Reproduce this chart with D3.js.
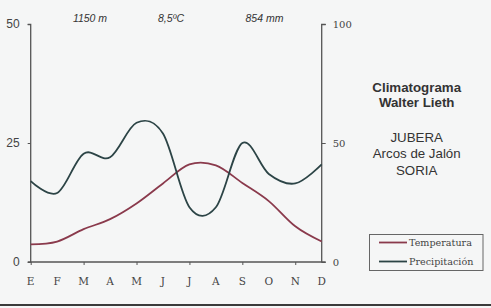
<!DOCTYPE html>
<html><head><meta charset="utf-8">
<script src="https://cdn.jsdelivr.net/npm/d3@7"></script>
<style>html,body{margin:0;padding:0;background:#f5f6f6;}</style>
</head><body>
<script>
const months = ["E","F","M","A","M","J","J","A","S","O","N","D"];
const temperatura = [3.7, 4.3, 6.9, 9.0, 12.3, 16.5, 20.5, 20.3, 16.6, 12.8, 7.5, 4.3];
const precipitacion = [34, 29, 45.5, 44, 58.5, 54, 23, 23, 50, 37, 33, 41];
const tempTicks = [0, 25, 50];
const precTicks = [0, 50, 100];
const headerTexts = [["1150 m", 90], ["8,5ºC", 171], ["854 mm", 264.5]];
const titleLines = ["Climatograma", "Walter Lieth"];
const placeLines = ["JUBERA", "Arcos de Jalón", "SORIA"];
const legendItems = [["Temperatura", "#8a3a4c"], ["Precipitación", "#2c4446"]];

const W = 491, H = 308;
const svg = d3.select("body").append("svg").attr("width", W).attr("height", H);
svg.append("rect").attr("width", W).attr("height", H).attr("fill", "#f5f6f6");

const x = d3.scalePoint().domain(d3.range(12)).range([30.7, 321.7]);
const yT = d3.scaleLinear().domain([0, 50]).range([262, 24]);
const yP = d3.scaleLinear().domain([0, 100]).range([262, 24]);
const axisColor = "#555";

// left axis
const gl = svg.append("g").attr("transform", "translate(30.7,0)");
gl.call(d3.axisLeft(yT).tickValues(tempTicks).tickSize(3).tickFormat(d3.format("d")));
gl.selectAll("text").attr("x", -11).attr("font-family", "Liberation Sans, Arial, sans-serif").attr("font-size", 12).attr("fill", "#444");
// right axis
const gr = svg.append("g").attr("transform", "translate(321.7,0)");
gr.call(d3.axisRight(yP).tickValues(precTicks).tickSize(4).tickFormat(d3.format("d")));
gr.selectAll("text").attr("x", 11).attr("font-family", "DejaVu Serif, serif").attr("font-size", 10).attr("fill", "#444");
// bottom axis
const gb = svg.append("g").attr("transform", "translate(0,262)");
gb.call(d3.axisBottom(x).tickValues(d3.range(0, 12, 2)).tickSize(3).tickFormat(""));
[gl, gr, gb].forEach(g => {
  g.select(".domain").attr("stroke", axisColor).attr("stroke-width", 1.3);
  g.selectAll(".tick line").attr("stroke", axisColor);
});
gb.select(".domain").attr("d", "M30.7,0H321.7");
gl.select(".domain").attr("d", "M-3,24.5H0V262H-3");
gr.select(".domain").attr("d", "M4,24.5H0V262H4");

svg.append("g").selectAll("text").data(months).join("text")
  .attr("x", (d, i) => x(i)).attr("y", 285)
  .attr("text-anchor", "middle")
  .attr("font-family", "DejaVu Serif, serif").attr("font-size", 10.5).attr("fill", "#444")
  .text(d => d);

// lines
const curve = d3.curveCardinal.tension(0);
svg.append("path").datum(temperatura)
  .attr("d", d3.line().x((d, i) => x(i)).y(d => yT(d)).curve(curve))
  .attr("fill", "none").attr("stroke", legendItems[0][1]).attr("stroke-width", 1.8);
svg.append("path").datum(precipitacion)
  .attr("d", d3.line().x((d, i) => x(i)).y(d => yP(d)).curve(curve))
  .attr("fill", "none").attr("stroke", legendItems[1][1]).attr("stroke-width", 1.8);

// header
svg.append("g").selectAll("text").data(headerTexts).join("text")
  .attr("x", d => d[1]).attr("y", 21.5).attr("text-anchor", "middle")
  .attr("font-family", "Liberation Sans, Arial, sans-serif").attr("font-style", "italic")
  .attr("font-size", 10.5).attr("fill", "#333").text(d => d[0]);

// titles
svg.append("g").selectAll("text").data(titleLines).join("text")
  .attr("x", 416.7).attr("y", (d, i) => 91.5 + i * 15.5).attr("text-anchor", "middle")
  .attr("font-family", "Liberation Sans, Arial, sans-serif").attr("font-weight", "bold")
  .attr("font-size", 13.3).attr("fill", "#333").text(d => d);
svg.append("g").selectAll("text").data(placeLines).join("text")
  .attr("x", 416.7).attr("y", (d, i) => 141.5 + i * 16.7).attr("text-anchor", "middle")
  .attr("font-family", "Liberation Sans, Arial, sans-serif")
  .attr("font-size", 13.3).attr("fill", "#333").text(d => d);

// legend
const lg = svg.append("g");
lg.append("rect").attr("x", 369.5).attr("y", 234.5).attr("width", 113.5).attr("height", 36)
  .attr("fill", "none").attr("stroke", "#666").attr("stroke-width", 1);
legendItems.forEach((d, i) => {
  const yy = 242.5 + i * 19;
  lg.append("line").attr("x1", 379).attr("x2", 407).attr("y1", yy).attr("y2", yy)
    .attr("stroke", d[1]).attr("stroke-width", 1.8);
  lg.append("text").attr("x", 409).attr("y", yy + 3.3)
    .attr("font-family", "DejaVu Serif, serif").attr("font-size", 9.6).attr("fill", "#444").text(d[0]);
});

// bottom border
svg.append("rect").attr("x", 0).attr("y", 304).attr("width", W).attr("height", 2).attr("fill", "#3a3a3a");
</script>
</body></html>
